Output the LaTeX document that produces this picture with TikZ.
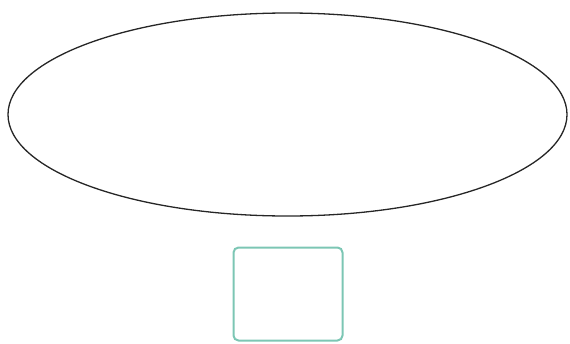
\documentclass[tikz,border=0pt]{standalone}
\usetikzlibrary{shapes.geometric}
\definecolor{tealline}{HTML}{7CC6B4}
\begin{document}
\begin{tikzpicture}[x=1pt, y=-1pt, every node/.style={inner sep=0pt, outer sep=0pt}]
\useasboundingbox (0,0) rectangle (570,343);
% big ellipse
\node[ellipse, draw=black!85, line width=1.3pt, minimum width=559pt, minimum height=203pt] (oval) at (287.5,114.5) {};
% small rounded box
\node[draw=tealline, line width=2pt, rounded corners=5pt, minimum width=109pt, minimum height=93pt] (box) at (288,294) {};
\end{tikzpicture}
\end{document}
